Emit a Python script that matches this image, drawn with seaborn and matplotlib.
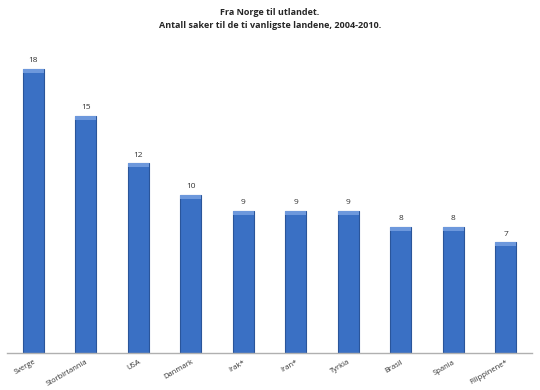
import matplotlib.pyplot as plt
import pandas as pd
import seaborn as sns

land = ['Sverge', 'Storbirtannia', 'USA', 'Danmark', 'Irak*', 'Iran*',
        'Tyrkia', 'Brasil', 'Spania', 'Filippinene*']
saker = [18, 15, 12, 10, 9, 9, 9, 8, 8, 7]

df = pd.DataFrame({'land': land, 'saker': saker})

sns.set_style('white')
plt.rcParams['font.family'] = ['Open Sans', 'DejaVu Sans']

fig = plt.figure(figsize=(5.4, 3.9), dpi=100)
ax = fig.add_axes([0.013, 0.0949, 0.972, 0.79])

sns.barplot(data=df, x='land', y='saker', color='#3a70c4', width=0.4,
            edgecolor='#2a559a', linewidth=0.8, saturation=1, ax=ax)

# light cap on top of each bar
for p in ax.patches:
    x = p.get_x()
    w = p.get_width()
    h = p.get_height()
    ax.fill_between([x, x + w], h - 0.25, h, color='#6d98dc', lw=0, zorder=3)

for i, v in enumerate(saker):
    ax.text(i, v + 0.3, str(v), ha='center', va='bottom', fontsize=6,
            color='#333333')

ax.set_ylim(0, 19.5)
ax.set_xlim(-0.5, 9.5)
ax.set_xlabel('')
ax.set_ylabel('')
ax.set_yticks([])
for s in ['top', 'right', 'left']:
    ax.spines[s].set_visible(False)
ax.spines['bottom'].set_color('#b0b0b0')
ax.spines['bottom'].set_linewidth(1)
ax.tick_params(axis='x', length=0, pad=4)
plt.setp(ax.get_xticklabels(), rotation=30, ha='right', rotation_mode='anchor',
         fontsize=5.5, color='#333333')

fig.text(0.5, 0.968, 'Fra Norge til utlandet.', ha='center', va='center',
         fontsize=6.5, fontweight='bold')
fig.text(0.5, 0.935, 'Antall saker til de ti vanligste landene, 2004-2010.',
         ha='center', va='center', fontsize=6.5, fontweight='bold')

fig.savefig('out.png', dpi=100)
